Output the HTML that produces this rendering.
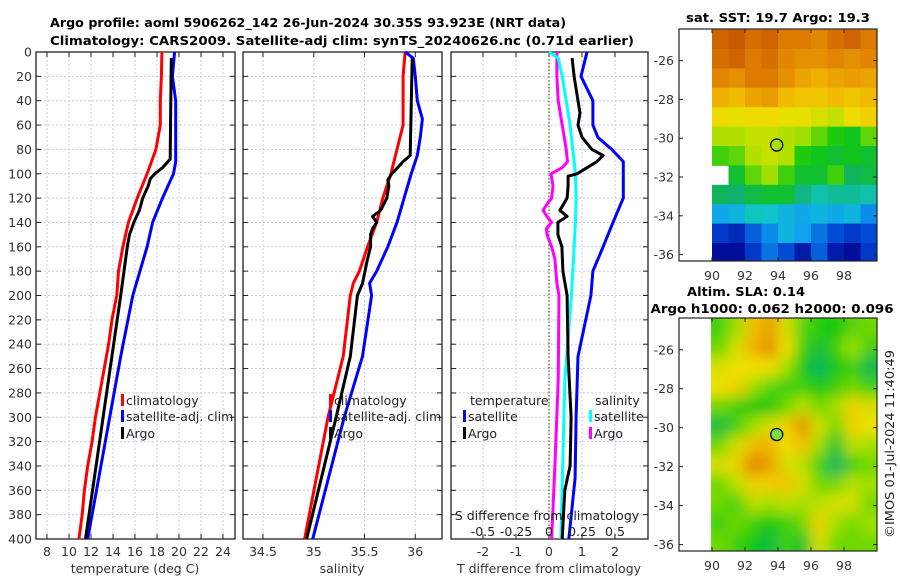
<!DOCTYPE html>
<html><head><meta charset="utf-8"><style>
html,body{margin:0;padding:0;background:#fff}
svg{display:block;font-family:"DejaVu Sans","Liberation Sans",sans-serif}
</style></head><body>
<svg id="chart" width="900" height="580" viewBox="0 0 900 580" xmlns="http://www.w3.org/2000/svg">
<defs>
<clipPath id="clipSla"><rect x="711" y="318" width="166" height="233"/></clipPath>
<filter id="blurSla" x="-5%" y="-5%" width="110%" height="110%"><feGaussianBlur stdDeviation="7"/></filter>
</defs>
<g id="root"></g>
</svg>
<script>
// ---------- data ----------
const tickDepths = [0,20,40,60,80,100,120,140,160,180,200,220,240,260,280,300,320,340,360,380,400];
const tTicks = [8,10,12,14,16,18,20,22,24];
const sTicks = [34.5,35,35.5,36];
const sTickLabels = ["34.5","35","35.5","36"];
const dTTicks = [-2,-1,0,1,2];
const dSTicks = [-0.5,-0.25,0,0.25,0.5];
const dSTickLabels = ["-0.5","-0.25","0","0.25","0.5"];

const climTDepth = [0,20,40,60,70,80,90,100,120,140,160,180,200,220,240,260,280,300,320,340,360,380,400];
const climT      = [18.45,18.4,18.3,18.3,18.1,17.9,17.5,17.1,16.2,15.4,14.9,14.5,14.35,13.9,13.6,13.2,12.8,12.4,12.1,11.7,11.4,11.2,10.9];
const argoTDepth = [5,40,88,95,100,104,110,120,130,140,150,160,200,250,300,350,400];
const argoT      = [19.3,19.25,19.2,18.5,17.8,17.4,17.2,16.7,16.4,15.9,15.5,15.3,14.7,13.9,13.1,12.3,11.5];
const satTDepth  = [0,20,40,90,100,120,140,160,200,250,300,400];
const satT       = [19.6,19.4,19.7,19.7,19.5,18.5,17.6,17.1,15.8,14.7,13.7,11.7];

const climSDepth = [0,20,60,80,100,120,140,160,180,190,200,250,300,400];
const climS      = [35.9,35.88,35.88,35.82,35.76,35.68,35.62,35.53,35.45,35.39,35.36,35.29,35.14,34.91];
const argoSDepth = [5,85,90,100,105,110,120,130,135,140,145,150,160,170,190,200,250,300,400];
const argoS      = [35.97,35.95,35.88,35.77,35.73,35.74,35.72,35.66,35.58,35.62,35.58,35.56,35.56,35.53,35.48,35.43,35.36,35.22,34.93];
const satSDepth  = [0,5,20,40,55,70,85,100,120,140,160,180,190,200,250,300,400];
const satS       = [35.9,35.98,36.0,36.02,36.07,36.05,36.02,35.96,35.89,35.82,35.73,35.62,35.55,35.57,35.48,35.30,34.99];

const dTSatDepth = [0,20,40,60,70,80,90,100,120,140,160,180,200,250,300,350,400];
const dTSat      = [1.15,0.97,1.33,1.33,1.48,1.9,2.25,2.25,2.25,1.94,1.64,1.33,1.27,0.88,0.82,0.79,0.6];
const dTArgoDepth= [5,20,40,50,60,70,80,85,90,95,100,102,110,120,130,135,140,150,160,180,200,250,300,340,360,400];
const dTArgo     = [0.7,0.76,0.88,0.94,0.88,1.0,1.3,1.64,1.45,1.15,0.85,0.58,0.58,0.55,0.33,0.55,0.27,0.27,0.39,0.42,0.55,0.58,0.67,0.64,0.48,0.4];
const dSArgoDepth= [0,20,40,60,80,90,95,100,110,120,125,130,135,140,145,150,160,170,190,200,270,340,400];
const dSArgo     = [0.06,0.06,0.07,0.1,0.13,0.14,0.1,0.015,0.03,0.02,-0.015,-0.045,-0.015,0.02,-0.02,-0.015,0.02,0.045,0.06,0.076,0.07,0.045,0.02];
const dSSatDepth = [0,5,20,40,60,80,100,120,140,160,180,200,270,400];
const dSSat      = [0,0.07,0.1,0.13,0.16,0.18,0.2,0.205,0.2,0.19,0.18,0.17,0.12,0.09];

const mapLonTicks = [90,92,94,96,98];
const mapLatTicks = [-26,-28,-30,-32,-34,-36];
const mapLonCells = [90,91,92,93,94,95,96,97,98,99];
const mapLatCells = [-24.4,-25.4,-26.4,-27.4,-28.4,-29.4,-30.4,-31.4,-32.4,-33.4,-34.4,-35.4];
const sstGrid = [
 [20.8,20.9,20.7,20.8,20.6,20.6,20.5,20.7,20.8,20.6],
 [20.7,20.8,20.6,20.7,20.5,20.4,20.4,20.5,20.4,20.5],
 [20.5,20.4,20.6,20.6,20.4,20.2,20.1,20.2,20.3,20.2],
 [20.1,20.0,20.2,20.3,20.0,19.9,19.9,20.0,19.9,20.0],
 [19.7,19.6,19.7,19.7,19.6,19.6,19.5,19.4,19.7,19.8],
 [19.3,19.3,19.4,19.4,19.3,19.2,19.0,18.8,18.7,19.0],
 [18.9,19.0,19.3,19.4,19.3,18.8,18.7,18.6,18.7,18.6],
 [null,18.6,19.0,19.2,18.9,18.6,18.6,18.9,18.4,18.5],
 [18.4,18.3,18.5,18.6,18.6,18.2,18.0,18.1,18.1,18.0],
 [17.5,17.6,17.9,17.8,17.6,17.5,17.6,17.5,17.6,17.3],
 [16.9,16.8,17.1,17.3,17.6,17.4,17.2,17.0,16.9,17.0],
 [16.6,16.6,16.9,17.2,17.0,16.7,17.1,16.7,16.6,16.9]];
const slaGrid = [
 [0.02,0.06,0.16,0.20,0.10,0.03,0.01,0.00,0.03,0.04],
 [0.04,0.10,0.18,0.22,0.12,0.02,-0.02,0.02,0.06,0.02],
 [0.10,0.12,0.12,0.12,0.06,0.00,-0.05,0.00,0.02,-0.04],
 [0.12,0.14,0.06,0.03,0.02,0.02,0.00,0.02,0.04,0.02],
 [0.04,0.02,0.00,0.00,0.04,0.08,0.04,0.06,0.14,0.10],
 [-0.03,0.02,0.06,0.10,0.14,0.22,0.10,0.04,0.14,0.12],
 [0.04,0.10,0.16,0.18,0.12,0.16,0.06,-0.02,0.08,0.06],
 [0.10,0.14,0.24,0.20,0.10,0.08,0.02,-0.05,0.02,0.04],
 [0.04,0.08,0.14,0.14,0.16,0.10,0.04,0.04,0.08,0.06],
 [0.04,0.02,0.08,0.06,0.08,0.06,0.08,0.10,0.10,0.04],
 [0.02,0.04,0.02,0.00,0.02,0.04,0.14,0.06,0.04,0.06],
 [0.04,0.02,0.00,-0.03,0.02,-0.02,0.10,0.04,0.04,0.04]];
const argoLon = 93.923, argoLat = -30.35;

// ---------- helpers ----------
const NS = "http://www.w3.org/2000/svg";
const root = document.getElementById("root");
function el(tag, attrs, parent){ const e=document.createElementNS(NS,tag); for(const k in attrs) e.setAttribute(k,attrs[k]); (parent||root).appendChild(e); return e; }
function txt(s, attrs, parent){ const e=el("text",attrs,parent); e.textContent=s; return e; }
const FS = 12.5;

const Y0=52, Y1=539;
const yD = d => Y0 + d*(Y1-Y0)/400;
const xT = t => 47 + (t-8)*11;
const xS = s => 263 + (s-34.5)*101.5;
const xdT = d => 549 + d*33;
const xdS = d => 549 + d*132;
const panels = [{x0:36,x1:235,name:"temperature-panel"},{x0:243,x1:442,name:"salinity-panel"},{x0:451,x1:648,name:"difference-panel"}];

function boldTitle(s,cx,y,w,name){
  const e=txt(s,{x:cx,y:y,"text-anchor":"middle","font-size":12.5,"font-weight":"bold",textLength:w,lengthAdjust:"spacingAndGlyphs"});
  
  
}
boldTitle("Argo profile: aoml 5906262_142 26-Jun-2024 30.35S 93.923E (NRT data)",308,27,516,"title-line-1");
boldTitle("Climatology: CARS2009. Satellite-adj clim: synTS_20240626.nc (0.71d earlier)",342,45,584,"title-line-2");

function drawPanel(p, xticks, xfun){
  const g=el("g",{});
  
  
  xticks.forEach(v=>{ const x=xfun(v); if(x>p.x0+1&&x<p.x1-1){
    const l=el("line",{x1:x,x2:x,y1:Y0,y2:Y1,stroke:"#c5cbe6","stroke-dasharray":"2,2","stroke-width":1},g);
     
    el("line",{x1:x,x2:x,y1:Y0,y2:Y0+5,stroke:"#222"},g);
    el("line",{x1:x,x2:x,y1:Y1,y2:Y1-5,stroke:"#222"},g);
  }});
  tickDepths.forEach(d=>{ const y=yD(d); if(d>0&&d<400){
    const l=el("line",{x1:p.x0,x2:p.x1,y1:y,y2:y,stroke:"#c5cbe6","stroke-dasharray":"2,2","stroke-width":1},g);
     
  }
    el("line",{x1:p.x0,x2:p.x0+5,y1:y,y2:y,stroke:"#222"},g);
    el("line",{x1:p.x1,x2:p.x1-5,y1:y,y2:y,stroke:"#222"},g);
  });
  const b=el("rect",{x:p.x0,y:Y0,width:p.x1-p.x0,height:Y1-Y0,fill:"none",stroke:"#222","stroke-width":1.3},g);
   
  return g;
}
const g1=drawPanel(panels[0],tTicks,xT);
const g2=drawPanel(panels[1],sTicks,xS);
const g3=drawPanel(panels[2],dTTicks,xdT);
let zl=el("line",{x1:xdT(0),x2:xdT(0),y1:Y0,y2:Y1,stroke:"#555a20","stroke-dasharray":"1.5,2","stroke-width":1.2},g3);



tickDepths.forEach(d=>{
  const l=txt(String(d),{x:32,y:yD(d)+4.5,"text-anchor":"end","font-size":FS,fill:"#333"});
  
  
});
tTicks.forEach(v=>{ const l=txt(String(v),{x:xT(v),y:556,"text-anchor":"middle","font-size":FS,fill:"#333"});
    });
sTicks.forEach((v,i)=>{ const l=txt(sTickLabels[i],{x:xS(v),y:556,"text-anchor":"middle","font-size":FS,fill:"#333"});
    });
dTTicks.forEach(v=>{ const l=txt(String(v),{x:xdT(v),y:556,"text-anchor":"middle","font-size":FS,fill:"#333"});
    });
dSTicks.forEach((v,i)=>{ const l=txt(dSTickLabels[i],{x:xdS(v),y:536,"text-anchor":"middle","font-size":FS,fill:"#222"});
    });
t=txt("temperature (deg C)",{x:135,y:573,"text-anchor":"middle","font-size":FS,fill:"#333"});
 
t=txt("salinity",{x:342,y:573,"text-anchor":"middle","font-size":FS,fill:"#333"});
 
t=txt("T difference from climatology",{x:549,y:573,"text-anchor":"middle","font-size":FS,fill:"#333"});
 
t=txt("S difference from climatology",{x:547,y:520,"text-anchor":"middle","font-size":FS,fill:"#222"});
 

function series(depths, vals, xfun, color, name, parent){
  const pts=depths.map((d,i)=>xfun(vals[i]).toFixed(1)+","+yD(d).toFixed(1)).join(" ");
  const p=el("polyline",{points:pts,fill:"none",stroke:color,"stroke-width":3,"stroke-linejoin":"round"},parent);
  
  
}
series(climTDepth,climT,xT,"#ff0000","climatology-temperature-line",g1);
series(satTDepth,satT,xT,"#0000ff","satellite-temperature-line",g1);
series(argoTDepth,argoT,xT,"#000000","argo-temperature-line",g1);
series(climSDepth,climS,xS,"#ff0000","climatology-salinity-line",g2);
series(satSDepth,satS,xS,"#0000ff","satellite-salinity-line",g2);
series(argoSDepth,argoS,xS,"#000000","argo-salinity-line",g2);
series(dSArgoDepth,dSArgo,xdS,"#ff00ff","argo-salinity-difference-line",g3);
series(dSSatDepth,dSSat,xdS,"#00ffff","satellite-salinity-difference-line",g3);
series(dTArgoDepth,dTArgo,xdT,"#000000","argo-temperature-difference-line",g3);
series(dTSatDepth,dTSat,xdT,"#0000ff","satellite-temperature-difference-line",g3);

function legendEntry(x,y,color,label,parent){
  const g=el("g",{},parent);
  
  
  if(color) el("rect",{x:x,y:y-11,width:3,height:12,fill:color},g);
  txt(label,{x:x+(color?5:0),y:y,"font-size":FS,fill:"#222"},g);
}
legendEntry(121,405,"#ff0000","climatology",g1);
legendEntry(121,421,"#0000ff","satellite-adj. clim",g1);
legendEntry(121,438,"#000000","Argo",g1);
legendEntry(329,405,"#ff0000","climatology",g2);
legendEntry(329,421,"#0000ff","satellite-adj. clim",g2);
legendEntry(329,438,"#000000","Argo",g2);
legendEntry(470,405,null,"temperature",g3);
legendEntry(463,421,"#0000ff","satellite",g3);
legendEntry(463,438,"#000000","Argo",g3);
legendEntry(595,405,null,"salinity",g3);
legendEntry(589,421,"#00ffff","satellite",g3);
legendEntry(589,438,"#ff00ff","Argo",g3);

// ---------- maps ----------
const stops=["#00008c","#0040d0","#10a0f0","#10c8c8","#10b070","#10c810","#a0e000","#f0e000","#f0b000","#e08000","#c05000"];
function hex(c){return [parseInt(c.slice(1,3),16),parseInt(c.slice(3,5),16),parseInt(c.slice(5,7),16)];}
function cmap(idx){ idx=Math.max(0,Math.min(10,idx)); const i=Math.min(9,Math.floor(idx)), f=idx-i;
  const a=hex(stops[i]), b=hex(stops[i+1]); return "rgb("+a.map((v,k)=>Math.round(v+(b[k]-v)*f)).join(",")+")"; }

function mapAxes(top,bottom,name){
  const lon0=88,lon1=100,lat0=-24.37,lat1=-36.33;
  const mx=lon=>679+(lon-lon0)*(877-679)/(lon1-lon0);
  const my=lat=>top+(lat-lat0)*(bottom-top)/(lat1-lat0);
  return {mx,my,top,bottom,name};
}
function drawMapFrame(m, labelY){
  const g=el("g",{});
  
  
  el("rect",{x:679,y:m.top,width:198,height:m.bottom-m.top,fill:"none",stroke:"#222","stroke-width":1.2},g);
  mapLonTicks.forEach(v=>{ const x=m.mx(v);
    el("line",{x1:x,x2:x,y1:m.bottom,y2:m.bottom-4,stroke:"#222"},g);
    el("line",{x1:x,x2:x,y1:m.top,y2:m.top+4,stroke:"#222"},g);
    const l=txt(String(v),{x:x,y:labelY,"text-anchor":"middle","font-size":FS,fill:"#333"},g);
     
  });
  mapLatTicks.forEach(v=>{ const y=m.my(v);
    el("line",{x1:679,x2:683,y1:y,y2:y,stroke:"#222"},g);
    el("line",{x1:877,x2:873,y1:y,y2:y,stroke:"#222"},g);
    const l=txt(String(v),{x:674,y:y+4.5,"text-anchor":"end","font-size":FS,fill:"#333"},g);
     
  });
  const c=el("circle",{cx:m.mx(argoLon),cy:m.my(argoLat),r:6,fill:m.marker,stroke:"#000","stroke-width":1.3},g);
  
  
}

const m1=mapAxes(29,261,"sst-map"); m1.marker="#a8e010";
const sstG=el("g",{});


sstGrid.forEach((row,r)=>row.forEach((v,c)=>{ if(v===null) return;
  const x=m1.mx(mapLonCells[c]), y=m1.my(mapLatCells[r]);
  const y2=r+1<mapLatCells.length?m1.my(mapLatCells[r+1]):m1.bottom;
  const x2=m1.mx(mapLonCells[c]+1);
  const cell=el("rect",{x:x.toFixed(1),y:y.toFixed(1),width:(Math.min(x2,877)-x+0.5).toFixed(1),height:(Math.min(y2,m1.bottom)-y+0.5).toFixed(1),fill:cmap((v-16.5)/0.45)},sstG);
  
  
}));
drawMapFrame(m1,280);
boldTitle("sat. SST: 19.7 Argo: 19.3",778,22,184,"sst-map-title");

const m2=mapAxes(318,551,"sla-map"); m2.marker="#80e040";
const slaWrap=el("g",{"clip-path":"url(#clipSla)"});


const slaG=el("g",{filter:"url(#blurSla)"},slaWrap);
slaGrid.forEach((row,r)=>row.forEach((v,c)=>{
  let x=m2.mx(mapLonCells[c]), y=m2.my(mapLatCells[r]);
  let w=m2.mx(mapLonCells[c]+1)-x, h=(r+1<mapLatCells.length?m2.my(mapLatCells[r+1]):m2.bottom)-y;
  if(c===0){x-=12;w+=12;} if(c===9){w+=12;} if(r===0){y-=12;h+=12;} if(r===11){h+=12;}
  const cell=el("rect",{x:x.toFixed(1),y:y.toFixed(1),width:(w+0.5).toFixed(1),height:(h+0.5).toFixed(1),fill:cmap(5+v/0.06)},slaG);
  
  
}));
drawMapFrame(m2,570);
boldTitle("Altim. SLA: 0.14",746,296,118,"sla-map-title");
boldTitle("Argo h1000: 0.062 h2000: 0.096",772,313,243,"argo-height-subtitle");
t=txt("©IMOS 01-Jul-2024 11:40:49",{x:0,y:0,"text-anchor":"middle","font-size":FS,fill:"#222",transform:"translate(894,444) rotate(-90)",textLength:188,lengthAdjust:"spacingAndGlyphs"});
 
</script>
</body></html>
